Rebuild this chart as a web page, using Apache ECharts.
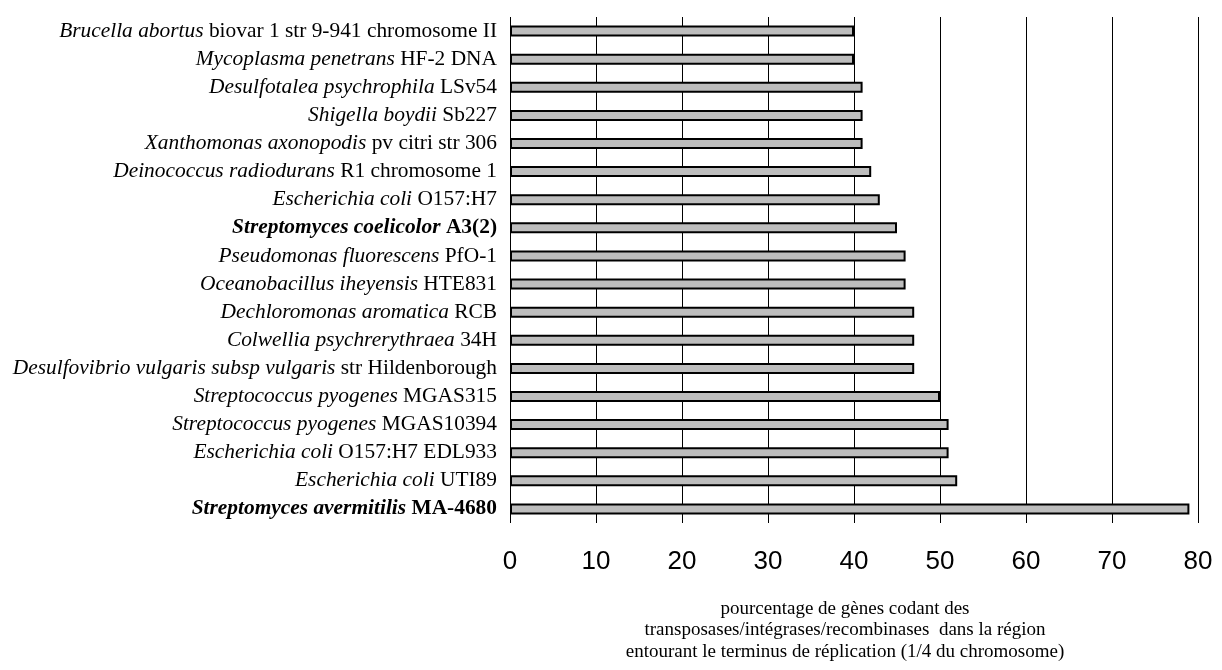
<!DOCTYPE html>
<html>
<head>
<meta charset="utf-8">
<script src="https://cdn.jsdelivr.net/npm/echarts@6/dist/echarts.min.js"></script>
<style>html,body{margin:0;padding:0;background:#fff;}#c{width:1222px;height:670px;}</style>
</head>
<body>
<div id="c"></div>
<script>
const speciesItalic = ['Brucella abortus', 'Mycoplasma penetrans', 'Desulfotalea psychrophila', 'Shigella boydii', 'Xanthomonas axonopodis', 'Deinococcus radiodurans', 'Escherichia coli', 'Streptomyces coelicolor', 'Pseudomonas fluorescens', 'Oceanobacillus iheyensis', 'Dechloromonas aromatica', 'Colwellia psychrerythraea', 'Desulfovibrio vulgaris subsp vulgaris', 'Streptococcus pyogenes', 'Streptococcus pyogenes', 'Escherichia coli', 'Escherichia coli', 'Streptomyces avermitilis'];
const strainText = ['biovar 1 str 9-941 chromosome II', 'HF-2 DNA', 'LSv54', 'Sb227', 'pv citri str 306', 'R1 chromosome 1', 'O157:H7', 'A3(2)', 'PfO-1', 'HTE831', 'RCB', '34H', 'str Hildenborough', 'MGAS315', 'MGAS10394', 'O157:H7 EDL933', 'UTI89', 'MA-4680'];
const highlighted = [false, false, false, false, false, false, false, true, false, false, false, false, false, false, false, false, false, true];
const values = [40, 40, 41, 41, 41, 42, 43, 45, 46, 46, 47, 47, 47, 50, 51, 51, 52, 79];
const xTicks = [0, 10, 20, 30, 40, 50, 60, 70, 80];
const axisTitle = 'pourcentage de gènes codant des\ntransposases/intégrases/recombinases  dans la région\nentourant le terminus de réplication (1/4 du chromosome)';

const categories = speciesItalic.map((s, i) => s + ' ' + strainText[i]);

const chart = echarts.init(document.getElementById('c'), null, {renderer: 'canvas'});
const serif = "'Liberation Serif', 'Times New Roman', serif";
const lblSize = 21.4;
chart.setOption({
  animation: false,
  backgroundColor: '#fff',
  grid: {left: 510, right: 24, top: 17, bottom: 147, containLabel: false, outerBoundsMode: 'none'},
  xAxis: {
    type: 'value',
    min: xTicks[0],
    max: xTicks[xTicks.length - 1],
    interval: 10,
    axisLine: {show: false},
    axisTick: {show: false},
    splitLine: {show: true, lineStyle: {color: '#000', width: 1}},
    axisLabel: {fontFamily: "'Liberation Sans', Arial, sans-serif", fontSize: 26, color: '#000', margin: 26}
  },
  yAxis: {
    type: 'category',
    data: categories,
    inverse: true,
    axisLine: {show: false},
    axisTick: {show: false},
    splitLine: {show: false},
    axisLabel: {
      margin: 13,
      interval: 0,
      formatter: function (v, i) {
        if (highlighted[i]) return '{bi|' + speciesItalic[i] + '}{b| ' + strainText[i] + '}';
        return '{i|' + speciesItalic[i] + '}{r| ' + strainText[i] + '}';
      },
      rich: {
        i: {fontFamily: serif, fontSize: lblSize, fontStyle: 'italic', color: '#000'},
        r: {fontFamily: serif, fontSize: lblSize, color: '#000'},
        bi: {fontFamily: serif, fontSize: lblSize, fontStyle: 'italic', fontWeight: 'bold', color: '#000'},
        b: {fontFamily: serif, fontSize: lblSize, fontWeight: 'bold', color: '#000'}
      }
    }
  },
  series: [{
    type: 'bar',
    data: values,
    barWidth: 11,
    itemStyle: {color: '#bdbdbd', borderColor: '#000', borderWidth: 2}
  }],
  graphic: [{
    type: 'text',
    x: 845,
    y: 598,
    style: {
      text: axisTitle,
      fontFamily: serif,
      fontSize: 19,
      lineHeight: 21.5,
      fill: '#000',
      align: 'center',
      textAlign: 'center'
    }
  }]
});
</script>
</body>
</html>
